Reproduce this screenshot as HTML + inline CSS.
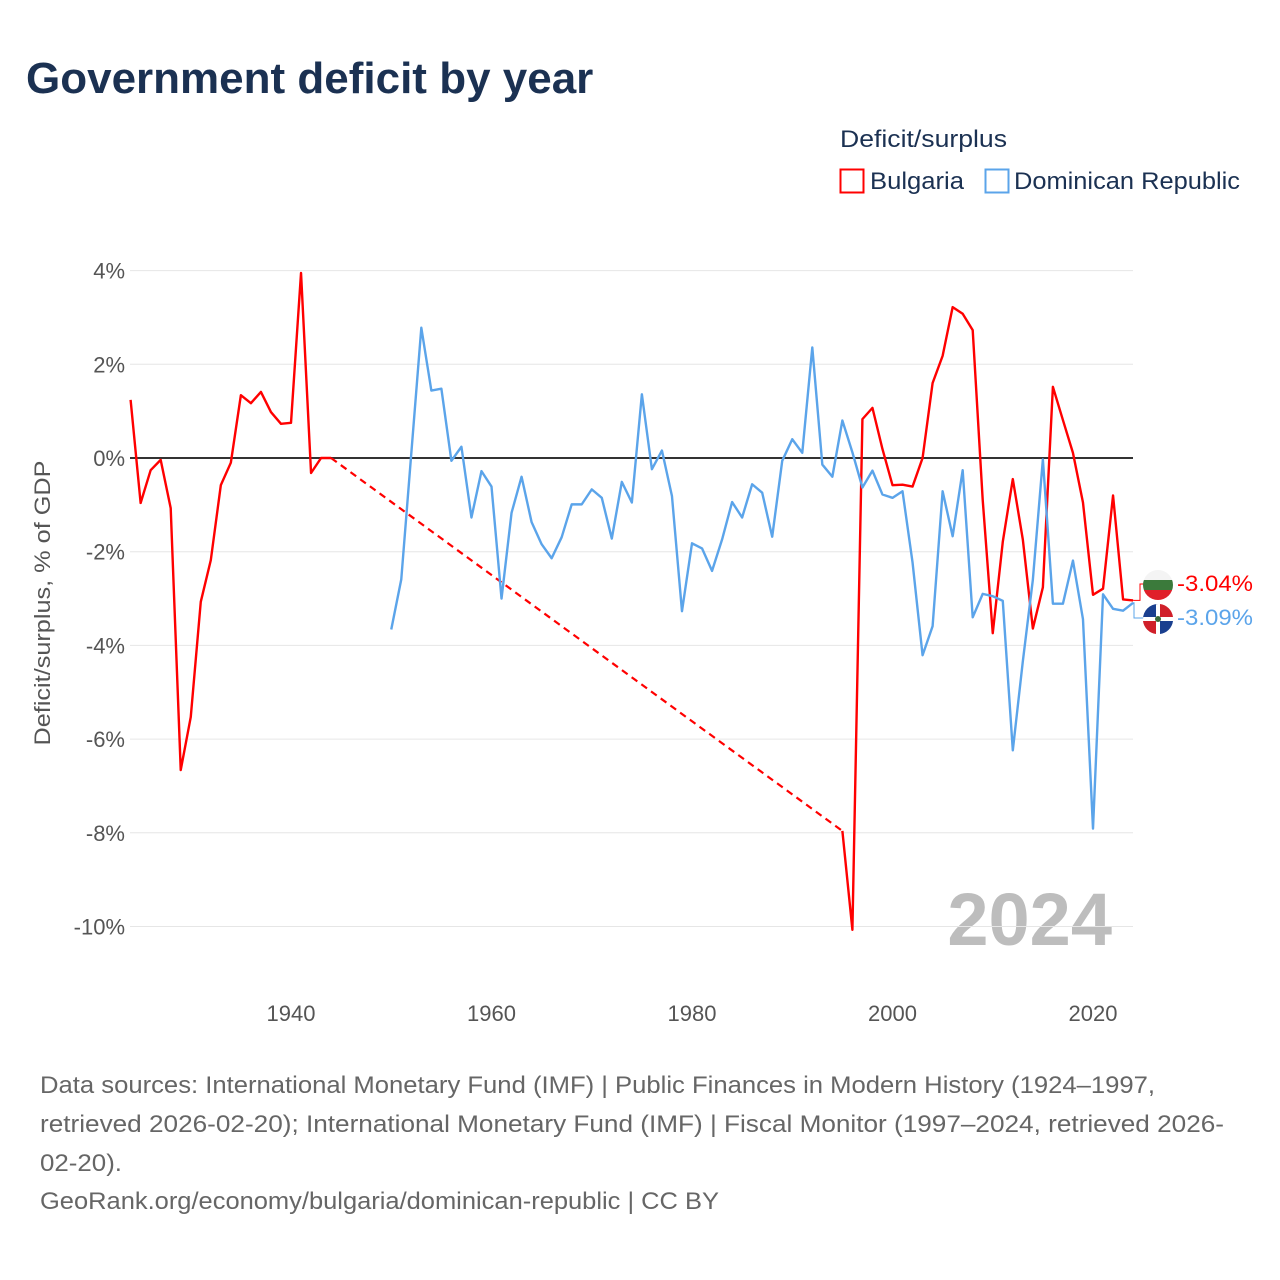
<!DOCTYPE html>
<html><head><meta charset="utf-8">
<style>
body{margin:0;background:#fff;font-family:"Liberation Sans",sans-serif;}
#wrap{position:relative;width:1280px;height:1280px;overflow:hidden;}
</style></head>
<body>
<div id="wrap">
<svg id="chart" width="1280" height="1280" xmlns="http://www.w3.org/2000/svg">
<text x="26" y="93" font-size="44" font-weight="bold" fill="#1b3152">Government deficit by year</text>
<text x="840" y="147" font-size="24" fill="#1b3152" textLength="167" lengthAdjust="spacingAndGlyphs">Deficit/surplus</text>
<g>
<rect x="840.5" y="169.5" width="23" height="23" fill="none" stroke="#ff0000" stroke-width="2"/>
<text x="870" y="189" font-size="24" fill="#1b3152" textLength="94" lengthAdjust="spacingAndGlyphs">Bulgaria</text></g>
<g>
<rect x="985.5" y="169.5" width="23" height="23" fill="none" stroke="#5ba4ea" stroke-width="2"/>
<text x="1014" y="189" font-size="24" fill="#1b3152" textLength="226" lengthAdjust="spacingAndGlyphs">Dominican Republic</text></g>
<text transform="translate(50,603) rotate(-90)" text-anchor="middle" font-size="22" fill="#555" textLength="285" lengthAdjust="spacingAndGlyphs">Deficit/surplus, % of GDP</text>
<text x="1112" y="945" text-anchor="end" font-size="74" font-weight="bold" fill="#bdbdbd">2024</text>
<g id="grid"></g><g id="series"></g><g id="ends"></g>
<g font-size="24" fill="#666">
<text x="40" y="1093" textLength="1115" lengthAdjust="spacingAndGlyphs">Data sources: International Monetary Fund (IMF) | Public Finances in Modern History (1924–1997,</text>
<text x="40" y="1132" textLength="1184" lengthAdjust="spacingAndGlyphs">retrieved 2026-02-20); International Monetary Fund (IMF) | Fiscal Monitor (1997–2024, retrieved 2026-</text>
<text x="40" y="1171" textLength="82" lengthAdjust="spacingAndGlyphs">02-20).</text>
<text x="40" y="1209" textLength="679" lengthAdjust="spacingAndGlyphs">GeoRank.org/economy/bulgaria/dominican-republic | CC BY</text>
</g>
</svg>
</div>
<script>
const yTicks=[4,2,0,-2,-4,-6,-8,-10];
const xTicks=[1940,1960,1980,2000,2020];
const bgYears=[1924,1925,1926,1927,1928,1929,1930,1931,1932,1933,1934,1935,1936,1937,1938,1939,1940,1941,1942,1943,1944,1995,1996,1997,1998,1999,2000,2001,2002,2003,2004,2005,2006,2007,2008,2009,2010,2011,2012,2013,2014,2015,2016,2017,2018,2019,2020,2021,2022,2023,2024];
const bgValues=[1.24,-0.96,-0.26,-0.04,-1.07,-6.66,-5.53,-3.07,-2.18,-0.58,-0.1,1.34,1.17,1.41,0.98,0.73,0.75,3.95,-0.32,0,0,-7.96,-10.07,0.83,1.07,0.19,-0.58,-0.57,-0.61,0.0,1.6,2.18,3.22,3.08,2.73,-0.9,-3.74,-1.79,-0.45,-1.74,-3.64,-2.76,1.52,0.81,0.11,-0.95,-2.92,-2.79,-0.8,-3.02,-3.04];
const drStart=1950;
const drValues=[-3.66,-2.59,0.1,2.78,1.44,1.48,-0.06,0.24,-1.27,-0.28,-0.61,-3.0,-1.17,-0.4,-1.37,-1.84,-2.14,-1.69,-0.99,-0.99,-0.67,-0.85,-1.72,-0.51,-0.95,1.36,-0.24,0.16,-0.81,-3.27,-1.82,-1.93,-2.41,-1.74,-0.94,-1.27,-0.56,-0.74,-1.68,-0.06,0.4,0.11,2.36,-0.14,-0.4,0.8,0.12,-0.63,-0.27,-0.78,-0.85,-0.71,-2.23,-4.21,-3.59,-0.71,-1.67,-0.26,-3.4,-2.9,-2.95,-3.05,-6.24,-4.34,-2.6,-0.03,-3.11,-3.11,-2.19,-3.44,-7.91,-2.91,-3.22,-3.26,-3.09];
const NS='http://www.w3.org/2000/svg';
const X0=130.6,PX_YEAR=10.025,Y0=458,PX_PCT=46.85,XR=1133;
const xs=y=>X0+(y-1924)*PX_YEAR;
const ys=v=>Y0-v*PX_PCT;
function mk(tag,attrs,parent){const e=document.createElementNS(NS,tag);for(const k in attrs)e.setAttribute(k,attrs[k]);parent.appendChild(e);return e;}
const grid=document.getElementById('grid');
yTicks.forEach(t=>{
  const l=mk('line',{x1:130,x2:XR,y1:ys(t),y2:ys(t),stroke:t===0?'#333':'#e6e6e6','stroke-width':t===0?2:1},grid);
  
  
  const tx=mk('text',{x:125,y:ys(t)+8,'text-anchor':'end','font-size':22,fill:'#555'},grid);
  tx.textContent=t+'%';
  
  
});
xTicks.forEach(t=>{
  const tx=mk('text',{x:xs(t),y:1021,'text-anchor':'middle','font-size':22,fill:'#555'},grid);
  tx.textContent=t;
  
  
});
const ser=document.getElementById('series');
let seg=[];
function flush(){if(seg.length>1){const p=mk('polyline',{points:seg.join(' '),fill:'none',stroke:'#ff0000','stroke-width':2.4,'stroke-linejoin':'round'},ser);
  
  }seg=[];}
for(let i=0;i<bgYears.length;i++){
  if(i>0&&bgYears[i]-bgYears[i-1]>1){
    flush();
    const d=mk('line',{x1:xs(bgYears[i-1]),y1:ys(bgValues[i-1]),x2:xs(bgYears[i]),y2:ys(bgValues[i]),stroke:'#ff0000','stroke-width':2.2,'stroke-dasharray':'7,5'},ser);
    
    
  }
  seg.push(xs(bgYears[i])+','+ys(bgValues[i]));
}
flush();
const drPts=drValues.map((v,i)=>xs(drStart+i)+','+ys(v)).join(' ');
const dr=mk('polyline',{points:drPts,fill:'none',stroke:'#5ba4ea','stroke-width':2.4,'stroke-linejoin':'round'},ser);


const ends=document.getElementById('ends');
const bLast=bgValues[bgValues.length-1], dLast=drValues[drValues.length-1];
const ex=xs(2024);
const bc=mk('polyline',{points:`${ex},${ys(bLast)} 1140,${ys(bLast)} 1140,584 1146,584`,fill:'none',stroke:'#ff0000','stroke-width':1},ends);


const dc=mk('polyline',{points:`${ex},${ys(dLast)} 1134,${ys(dLast)} 1134,618 1146,618`,fill:'none',stroke:'#5ba4ea','stroke-width':1},ends);


const fb=mk('g',{},ends);


mk('clipPath',{id:'cb'},fb).appendChild(document.createElementNS(NS,'circle'));
const cbc=fb.querySelector('circle');cbc.setAttribute('cx',1158);cbc.setAttribute('cy',585);cbc.setAttribute('r',15);
mk('rect',{x:1143,y:570,width:30,height:10,fill:'#f4f4f4','clip-path':'url(#cb)'},fb);
mk('rect',{x:1143,y:580,width:30,height:10,fill:'#3b7a3b','clip-path':'url(#cb)'},fb);
mk('rect',{x:1143,y:590,width:30,height:10,fill:'#e0202a','clip-path':'url(#cb)'},fb);
const fd=mk('g',{},ends);


mk('circle',{cx:1158,cy:619,r:15,fill:'#fff'},fd);
mk('path',{d:'M1143,619 A15,15 0 0 1 1158,604 L1156,604 1156,617 1143,617Z',fill:'#1a3f8f'},fd);
mk('path',{d:'M1160,604 A15,15 0 0 1 1173,617 L1160,617Z',fill:'#d0202a'},fd);
mk('path',{d:'M1143,621 L1156,621 1156,634 A15,15 0 0 1 1143,621Z',fill:'#d0202a'},fd);
mk('path',{d:'M1160,621 L1173,621 A15,15 0 0 1 1160,634Z',fill:'#1a3f8f'},fd);
mk('circle',{cx:1158,cy:619,r:3,fill:'#3a6a3a'},fd);
const lb=mk('text',{x:1177,y:591,'font-size':22,fill:'#ff0000',textLength:76,lengthAdjust:'spacingAndGlyphs'},ends);
lb.textContent=bLast.toFixed(2)+'%';


const ld=mk('text',{x:1177,y:625,'font-size':22,fill:'#5ba4ea',textLength:76,lengthAdjust:'spacingAndGlyphs'},ends);
ld.textContent=dLast.toFixed(2)+'%';


</script>
</body></html>
